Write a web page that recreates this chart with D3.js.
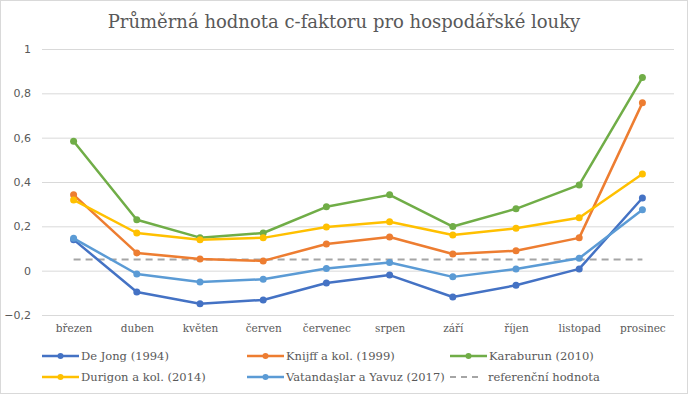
<!DOCTYPE html>
<html>
<head>
<meta charset="utf-8">
<script src="https://cdn.jsdelivr.net/npm/d3@7"></script>
<style>
  body { margin: 0; background: #fff; }
  svg { display: block; }
</style>
</head>
<body>
<div id="chart"></div>
<script>
"use strict";

var months = ["březen", "duben", "květen", "červen", "červenec", "srpen", "září", "říjen", "listopad", "prosinec"];
var deJong = [0.14, -0.096, -0.149, -0.132, -0.056, -0.02, -0.119, -0.066, 0.008, 0.328];
var knijff = [0.342, 0.08, 0.053, 0.044, 0.12, 0.152, 0.075, 0.09, 0.148, 0.757];
var karaburun = [0.584, 0.23, 0.149, 0.17, 0.288, 0.342, 0.199, 0.279, 0.387, 0.871];
var durigon = [0.319, 0.17, 0.14, 0.148, 0.197, 0.221, 0.161, 0.191, 0.239, 0.436];
var vatandaslar = [0.146, -0.015, -0.051, -0.039, 0.01, 0.037, -0.028, 0.008, 0.056, 0.275];
var reference = 0.05;
var yTicks = [-0.2, 0, 0.2, 0.4, 0.6, 0.8, 1];

var series = [
  { name: "De Jong (1994)", values: deJong, color: "#4472c4" },
  { name: "Knijff a kol. (1999)", values: knijff, color: "#ed7d31" },
  { name: "Karaburun (2010)", values: karaburun, color: "#70ad47" },
  { name: "Durigon a kol. (2014)", values: durigon, color: "#ffc000" },
  { name: "Vatandaşlar a Yavuz (2017)", values: vatandaslar, color: "#5b9bd5" }
];

var width = 688;
var height = 394;
var margin = { top: 49, right: 14, bottom: 79, left: 42 };
var serif = "DejaVu Serif, serif";

var svg = d3.select("#chart").append("svg")
  .attr("width", width)
  .attr("height", height);

svg.append("rect")
  .attr("x", 0.5).attr("y", 0.5)
  .attr("width", width - 1).attr("height", height - 1)
  .attr("fill", "#fff").attr("stroke", "#d9d9d9");

svg.append("text")
  .attr("x", 344).attr("y", 28)
  .attr("text-anchor", "middle")
  .attr("font-family", serif)
  .attr("font-size", "18px")
  .attr("fill", "#595959")
  .text("Průměrná hodnota c-faktoru pro hospodářské louky");

var x = d3.scalePoint()
  .domain(months)
  .range([margin.left, width - margin.right])
  .padding(0.5);

var y = d3.scaleLinear()
  .domain([-0.2, 1])
  .range([height - margin.bottom, margin.top]);

var fmt = function(d) { return d3.format("")(+d.toFixed(1)).replace(".", ","); };

// grid + y labels
var yAxis = svg.append("g")
  .attr("transform", "translate(" + margin.left + ",0)")
  .call(d3.axisLeft(y).tickValues(yTicks).tickSize(-(width - margin.left - margin.right)).tickFormat(fmt).tickPadding(11));
yAxis.select(".domain").remove();
yAxis.selectAll(".tick line").attr("stroke", "#d9d9d9");
yAxis.selectAll(".tick text")
  .attr("font-family", "DejaVu Sans, sans-serif")
  .attr("font-size", "11px")
  .attr("fill", "#595959");

var xAxis = svg.append("g")
  .attr("transform", "translate(0," + (height - margin.bottom) + ")")
  .call(d3.axisBottom(x).tickSize(0).tickPadding(10));
xAxis.select(".domain").remove();
xAxis.selectAll(".tick text")
  .attr("font-family", serif)
  .attr("font-size", "10.5px")
  .attr("fill", "#595959");

// reference line
svg.append("line")
  .attr("x1", x(months[0])).attr("x2", x(months[months.length - 1]))
  .attr("y1", y(reference)).attr("y2", y(reference))
  .attr("stroke", "#a5a5a5")
  .attr("stroke-width", 2)
  .attr("stroke-dasharray", "7,5");

var line = d3.line()
  .x(function(d, i) { return x(months[i]); })
  .y(function(d) { return y(d); });

series.forEach(function(s) {
  svg.append("path")
    .datum(s.values)
    .attr("fill", "none")
    .attr("stroke", s.color)
    .attr("stroke-width", 2.5)
    .attr("stroke-linejoin", "round")
    .attr("d", line);
  svg.selectAll(null)
    .data(s.values)
    .enter()
    .append("circle")
    .attr("cx", function(d, i) { return x(months[i]); })
    .attr("cy", function(d) { return y(d); })
    .attr("r", 3.5)
    .attr("fill", s.color);
});

// legend
var legendItems = series.map(function(s) { return { name: s.name, color: s.color, dash: false }; });
legendItems.push({ name: "referenční hodnota", color: "#a5a5a5", dash: true });
var legendX = [42, 247, 450];
var legendY = [356, 377];

var lg = svg.selectAll("g.legend")
  .data(legendItems)
  .enter()
  .append("g")
  .attr("class", "legend")
  .attr("transform", function(d, i) { return "translate(" + legendX[i % 3] + "," + legendY[Math.floor(i / 3)] + ")"; });

lg.append("line")
  .attr("x1", 0).attr("x2", function(d) { return d.dash ? 29 : 37; })
  .attr("y1", 0).attr("y2", 0)
  .attr("stroke", function(d) { return d.color; })
  .attr("stroke-width", function(d) { return d.dash ? 2 : 2.5; })
  .attr("stroke-dasharray", function(d) { return d.dash ? "6,5" : null; });

lg.filter(function(d) { return !d.dash; }).append("circle")
  .attr("cx", 18.5).attr("cy", 0).attr("r", 3)
  .attr("fill", function(d) { return d.color; });

lg.append("text")
  .attr("x", function(d) { return d.dash ? 38 : 39; })
  .attr("y", 4)
  .attr("font-family", serif)
  .attr("font-size", "11.5px")
  .attr("fill", "#595959")
  .text(function(d) { return d.name; });
</script>
</body>
</html>
